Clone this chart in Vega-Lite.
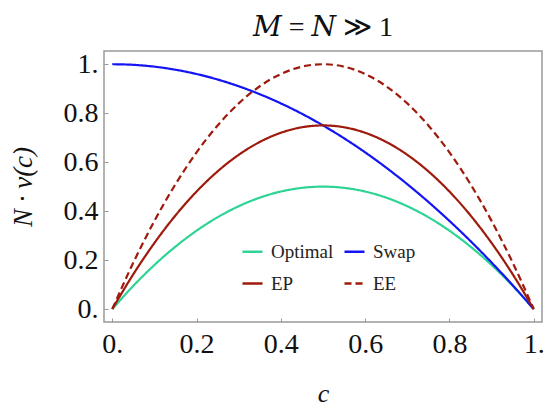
{
  "$schema": "https://vega.github.io/schema/vega-lite/v6.json",
  "autosize": "none",
  "width": 438,
  "height": 271,
  "padding": {"left": 104, "top": 51, "right": 5, "bottom": 85},
  "title": {
    "text": "𝑀 = 𝑁 ≫ 1",
    "font": "Liberation Serif, DejaVu Serif",
    "fontSize": 28,
    "fontWeight": "normal",
    "color": "#111",
    "offset": 8
  },
  "data": {
    "values": [
      {"c": 0, "Optimal": 0, "Swap": 1, "EP": 0, "EE": 0},
      {"c": 0.05, "Optimal": 0.095, "Swap": 0.9975, "EP": 0.1425, "EE": 0.19},
      {"c": 0.1, "Optimal": 0.18, "Swap": 0.99, "EP": 0.27, "EE": 0.36},
      {"c": 0.15, "Optimal": 0.255, "Swap": 0.9775, "EP": 0.3825, "EE": 0.51},
      {"c": 0.2, "Optimal": 0.32, "Swap": 0.96, "EP": 0.48, "EE": 0.64},
      {"c": 0.25, "Optimal": 0.375, "Swap": 0.9375, "EP": 0.5625, "EE": 0.75},
      {"c": 0.3, "Optimal": 0.42, "Swap": 0.91, "EP": 0.63, "EE": 0.84},
      {"c": 0.35, "Optimal": 0.455, "Swap": 0.8775, "EP": 0.6825, "EE": 0.91},
      {"c": 0.4, "Optimal": 0.48, "Swap": 0.84, "EP": 0.72, "EE": 0.96},
      {"c": 0.45, "Optimal": 0.495, "Swap": 0.7975, "EP": 0.7425, "EE": 0.99},
      {"c": 0.5, "Optimal": 0.5, "Swap": 0.75, "EP": 0.75, "EE": 1},
      {"c": 0.55, "Optimal": 0.495, "Swap": 0.6975, "EP": 0.7425, "EE": 0.99},
      {"c": 0.6, "Optimal": 0.48, "Swap": 0.64, "EP": 0.72, "EE": 0.96},
      {"c": 0.65, "Optimal": 0.455, "Swap": 0.5775, "EP": 0.6825, "EE": 0.91},
      {"c": 0.7, "Optimal": 0.42, "Swap": 0.51, "EP": 0.63, "EE": 0.84},
      {"c": 0.75, "Optimal": 0.375, "Swap": 0.4375, "EP": 0.5625, "EE": 0.75},
      {"c": 0.8, "Optimal": 0.32, "Swap": 0.36, "EP": 0.48, "EE": 0.64},
      {"c": 0.85, "Optimal": 0.255, "Swap": 0.2775, "EP": 0.3825, "EE": 0.51},
      {"c": 0.9, "Optimal": 0.18, "Swap": 0.19, "EP": 0.27, "EE": 0.36},
      {"c": 0.95, "Optimal": 0.095, "Swap": 0.0975, "EP": 0.1425, "EE": 0.19},
      {"c": 1, "Optimal": 0, "Swap": 0, "EP": 0, "EE": 0}
    ]
  },
  "transform": [
    {"fold": ["Optimal", "Swap", "EP", "EE"], "as": ["series", "v"]}
  ],
  "mark": {"type": "line", "strokeWidth": 2.2, "interpolate": "monotone", "clip": true},
  "encoding": {
    "x": {
      "field": "c", "type": "quantitative",
      "scale": {"domain": [-0.0197, 1.0197], "nice": false, "zero": false},
      "axis": {
        "title": "c", "values": [0, 0.2, 0.4, 0.6, 0.8, 1],
        "labelExpr": "datum.value == 0 ? '0.' : datum.value == 1 ? '1.' : format(datum.value, '.1f')",
        "labelPadding": 12, "titlePadding": 22, "titleFontSize": 26
      }
    },
    "y": {
      "field": "v", "type": "quantitative",
      "scale": {"domain": [-0.053, 1.054], "nice": false, "zero": false},
      "axis": {
        "title": "N · v(c)", "values": [0, 0.2, 0.4, 0.6, 0.8, 1],
        "labelExpr": "datum.value == 0 ? '0.' : datum.value == 1 ? '1.' : format(datum.value, '.1f')",
        "labelPadding": 10, "titlePadding": 26
      }
    },
    "color": {
      "field": "series", "type": "nominal", "title": null,
      "scale": {"domain": ["Optimal", "EP", "Swap", "EE"], "range": ["#2fd494", "#9e1a0c", "#1414f5", "#9e1a0c"]},
      "legend": {"orient": "none", "legendX": 137, "legendY": 189, "columns": 2}
    },
    "strokeDash": {
      "field": "series", "type": "nominal", "title": null,
      "scale": {"domain": ["Optimal", "EP", "Swap", "EE"], "range": [[1, 0], [1, 0], [1, 0], [7, 4]]},
      "legend": {"orient": "none", "legendX": 137, "legendY": 189, "columns": 2}
    }
  },
  "config": {
    "view": {"stroke": "#999", "strokeWidth": 1.5},
    "legend": {
      "padding": 0,
      "symbolType": "stroke", "symbolSize": 400, "symbolStrokeWidth": 2.5,
      "labelFont": "Liberation Serif", "labelFontSize": 19, "labelColor": "#222",
      "rowPadding": 10, "columnPadding": 5, "labelOffset": 7
    },
    "axis": {
      "grid": false, "domain": false,
      "tickColor": "#999", "tickSize": -4, "tickWidth": 1,
      "labelFont": "Liberation Serif", "labelFontSize": 28, "labelColor": "#111",
      "titleFont": "Liberation Serif", "titleFontSize": 27, "titleFontWeight": "normal",
      "titleFontStyle": "italic", "titleColor": "#111"
    }
  }
}
